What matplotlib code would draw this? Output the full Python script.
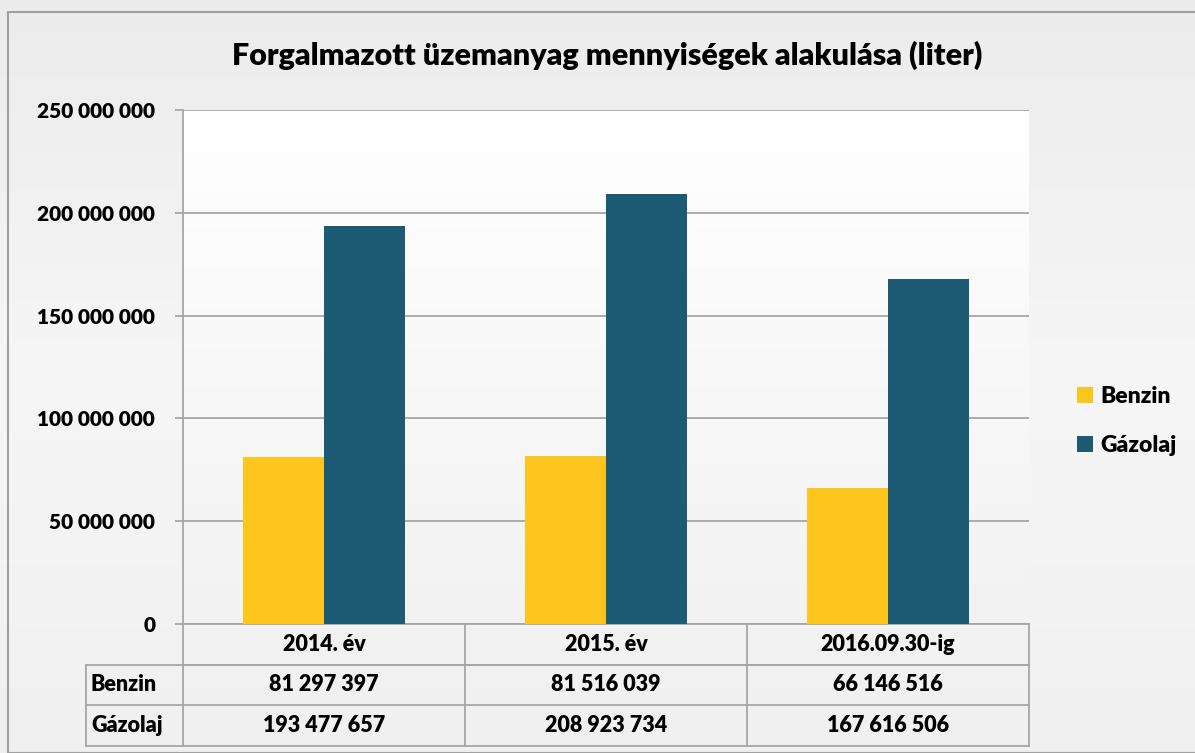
import matplotlib
matplotlib.use("Agg")
import matplotlib.pyplot as plt
import numpy as np
from matplotlib.patches import Rectangle
from matplotlib.colors import LinearSegmentedColormap

categories = ["2014. év", "2015. év", "2016.09.30-ig"]
series_names = ["Benzin", "Gázolaj"]
benzin = [81297397, 81516039, 66146516]
gazolaj = [193477657, 208923734, 167616506]
yticks = [0, 50000000, 100000000, 150000000, 200000000, 250000000]
title = "Forgalmazott üzemanyag mennyiségek alakulása (liter)"

colors = ["#FFC51F", "#1D5A73"]
grid_c = "#A6A6A6"

plt.rcParams['font.family'] = ['Lato', 'DejaVu Sans']
plt.rcParams['font.weight'] = 'bold'

def fmt(v):
    return f"{v:,}".replace(",", " ")

W, H = 1195, 753
fig = plt.figure(figsize=(W/100, H/100), dpi=100)

# background gradient
bg = fig.add_axes([0, 0, 1, 1], zorder=-10)
cm_bg = LinearSegmentedColormap.from_list("bg", ["#ECECEC", "#F6F6F6", "#F0F0F0"])
bg.imshow(np.linspace(0, 1, 256).reshape(-1, 1), aspect='auto', cmap=cm_bg,
          extent=[0, 1, 0, 1], origin='upper')
bg.add_patch(Rectangle((8/W, 0), 1.2, 1 - 12/H, transform=bg.transAxes,
                       fill=False, edgecolor="#A0A0A0", lw=1.5))
bg.set_xlim(0, 1); bg.set_ylim(0, 1)
bg.axis('off')

ax = fig.add_axes([183/W, 1 - 624/H, (1029 - 183)/W, (624 - 110)/H])
ax.patch.set_alpha(0)
ax.imshow(np.linspace(0, 1, 256).reshape(-1, 1), aspect='auto',
          cmap=LinearSegmentedColormap.from_list("pa", ["#FFFFFF", "#F2F2F2"]),
          extent=[-0.5, 2.5, 0, 250000000], origin='upper', zorder=0)

n = len(categories)
x = np.arange(n)
bw = 0.288
ax.bar(x - bw/2, benzin, bw, color=colors[0], label=series_names[0], zorder=3)
ax.bar(x + bw/2, gazolaj, bw, color=colors[1], label=series_names[1], zorder=3)

ax.set_xlim(-0.5, n - 0.5)
ax.set_ylim(0, 250000000)
ax.set_yticks(yticks)
ax.set_yticklabels([fmt(v) for v in yticks], fontsize=15, fontweight=800)
ax.yaxis.grid(True, color=grid_c, lw=1.3, zorder=1)
ax.set_axisbelow(True)
ax.set_xticks([])
for s in ['top', 'right']:
    ax.spines[s].set_visible(False)
for s in ['left', 'bottom']:
    ax.spines[s].set_color(grid_c)
    ax.spines[s].set_linewidth(1.3)
ax.tick_params(axis='y', length=6, color=grid_c, width=1.3, pad=14)

# data table drawn below the axes (axes-fraction coordinates)
rows = [series_names[0], series_names[1]]
vals = [benzin, gazolaj]
rh = 40.5 / 514
lab_left = (86 - 183) / 846
tr = ax.transAxes
lk = dict(color=grid_c, lw=1.3, transform=tr, clip_on=False, zorder=5)
ax.plot([0, 1], [-rh, -rh], **lk)
ax.plot([lab_left, 1], [-rh, -rh], **lk)
ax.plot([lab_left, 1], [-2*rh, -2*rh], **lk)
ax.plot([lab_left, 1], [-3*rh, -3*rh], **lk)
ax.plot([lab_left, lab_left], [-rh, -3*rh], **lk)
for i in range(n + 1):
    ax.plot([i/n, i/n], [0, -3*rh], **lk)
tk = dict(transform=tr, fontsize=15.5, fontweight=800, va='center', clip_on=False)
for i, c in enumerate(categories):
    ax.text((i + 0.5)/n, -0.5*rh, c, ha='center', **tk)
for r, (lab, vv) in enumerate(zip(rows, vals)):
    yc = -(r + 1.5) * rh
    ax.text(lab_left + 5/846, yc, lab, ha='left', **tk)
    for i, v in enumerate(vv):
        ax.text((i + 0.5)/n, yc, fmt(v), ha='center', **tk)

# legend
fig.legend(loc='center left', bbox_to_anchor=(1068/W, 1 - 421/H),
           frameon=False, handlelength=0.7, handleheight=0.7,
           handletextpad=0.3, labelspacing=1.2, borderaxespad=0,
           prop={'weight': 800, 'size': 16.5})

fig.text(607/W, 1 - 55/H, title, ha='center', va='center', fontsize=22, fontweight=800)

fig.savefig("out.png", dpi=100)
